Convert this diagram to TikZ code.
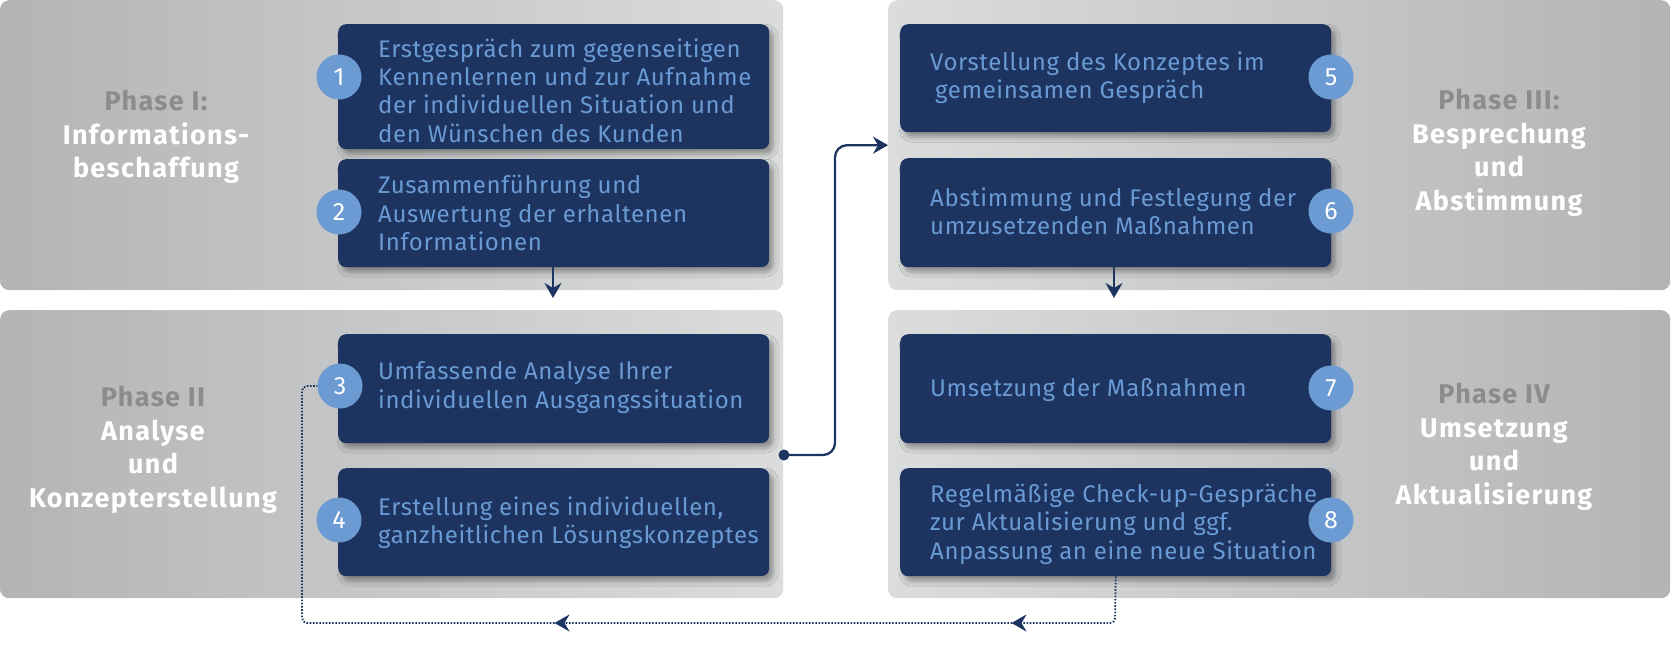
\documentclass[tikz,border=0pt]{standalone}
\usepackage{fontspec}
\setmainfont{Fira Sans}
\newfontfamily\bodyfont[LetterSpace=2.5]{Fira Sans}
\newfontfamily\phasefont[LetterSpace=5]{Fira Sans}
\usetikzlibrary{arrows.meta,shadows.blur,decorations.markings,calc}
\definecolor{navy}{HTML}{1D3461}
\definecolor{txtblue}{HTML}{6A9AD4}
\definecolor{circ}{HTML}{6B9BD2}
\definecolor{gDark}{HTML}{B3B4B6}
\definecolor{gLight}{HTML}{DBDCDC}
\definecolor{phgray}{HTML}{8C8C8C}
\begin{document}
\begin{tikzpicture}[x=1pt,y=-1pt,
  panel/.style={rounded corners=9pt, draw=none, anchor=north west, inner sep=0pt},
  box/.style={rounded corners=8pt, fill=navy, anchor=north west, inner sep=0pt, minimum width=431pt,
    blur shadow={shadow xshift=4pt, shadow yshift=-5pt, shadow blur radius=5pt, shadow opacity=35}},
  btxt/.style={anchor=west, align=left, text=txtblue, inner sep=0pt, font=\bodyfont\fontsize{24}{28.3}\selectfont},
  num/.style={circle, fill=circ, text=white, minimum size=45pt, inner sep=0pt, font=\fontsize{25}{25}\selectfont},
  phase/.style={align=center, text=white, inner sep=0pt, font=\phasefont\bfseries\fontsize{27}{33.5}\selectfont},
  conn/.style={draw=navy, line width=2.3pt},
  dotline/.style={draw=navy, line width=1.8pt, dash pattern=on 1.6pt off 1.6pt, rounded corners=5pt},
  tip/.style={-{Stealth[length=15pt,width=17pt,inset=5pt]}},
  dotnode/.style={circle, fill=navy, minimum size=11pt, inner sep=0pt}
]
\useasboundingbox (0,0) rectangle (1672,648);
% panels
\node[panel, left color=gDark, right color=gLight, minimum width=783pt, minimum height=290pt] (p1) at (0,0) {};
\node[panel, left color=gDark, right color=gLight, minimum width=783pt, minimum height=288pt] (p2) at (0,310) {};
\node[panel, left color=gLight, right color=gDark, minimum width=782pt, minimum height=290pt] (p3) at (888,0) {};
\node[panel, left color=gLight, right color=gDark, minimum width=782pt, minimum height=288pt] (p4) at (888,310) {};
% phase labels
\node[phase] (l1) at (156,137) {\textcolor{phgray}{Phase I:}\\Informations-\\beschaffung};
\node[phase] (l2) at (153,450) {\textcolor{phgray}{Phase II}\\Analyse\\und\\Konzepterstellung};
\node[phase] (l3) at (1499,153) {\textcolor{phgray}{Phase III:}\\Besprechung\\und\\Abstimmung};
\node[phase] (l4) at (1494,447) {\textcolor{phgray}{Phase IV}\\Umsetzung\\und\\Aktualisierung};
% boxes
\node[box, minimum height=125pt] (b1) at (338,24) {};
\node[box, minimum height=108pt] (b2) at (338,159) {};
\node[box, minimum height=109pt] (b3) at (338,334) {};
\node[box, minimum height=108pt] (b4) at (338,468) {};
\node[box, minimum height=108pt] (b5) at (900,24) {};
\node[box, minimum height=109pt] (b6) at (900,158) {};
\node[box, minimum height=109pt] (b7) at (900,334) {};
\node[box, minimum height=108pt] (b8) at (900,468) {};
% texts
\node[btxt] (t1) at (378,90.5) {Erstgespräch zum gegenseitigen\\Kennenlernen und zur Aufnahme\\der individuellen Situation und\\den Wünschen des Kunden};
\node[btxt] (t2) at (378,213) {Zusammenführung und\\Auswertung der erhaltenen\\Informationen};
\node[btxt] (t3) at (378,387.5) {Umfassende Analyse Ihrer\\individuellen Ausgangssituation};
\node[btxt] (t4) at (378,522.5) {Erstellung eines individuellen,\\ganzheitlichen Lösungskonzeptes};
\node[btxt] (t5) at (930,77.5) {Vorstellung des Konzeptes im\\\hspace*{5pt}gemeinsamen Gespräch};
\node[btxt] (t6) at (930,211.5) {Abstimmung und Festlegung der\\umzusetzenden Maßnahmen};
\node[btxt] (t7) at (930,390) {Umsetzung der Maßnahmen};
\node[btxt] (t8) at (930,524) {Regelmäßige Check-up-Gespräche\\zur Aktualisierung und ggf.\\Anpassung an eine neue Situation};
% numbers
\node[num] (c1) at (339,77) {1};
\node[num] (c2) at (339,212) {2};
\node[num] (c3) at (340,386) {3};
\node[num] (c4) at (339,520) {4};
\node[num] (c5) at (1331,77) {5};
\node[num] (c6) at (1331,211) {6};
\node[num] (c7) at (1331,388) {7};
\node[num] (c8) at (1331,520) {8};
% vertical arrows
\coordinate (a2) at (553,298);
\coordinate (a6) at (1114,298);
\draw[conn, tip] (b2.south -| a2) -- (a2);
\draw[conn, tip] (b6.south -| a6) -- (a6);
% solid connector from phase II to phase III
\node[dotnode] (s1) at (784,455) {};
\coordinate (k1) at (835,455);
\draw[conn, tip, rounded corners=12pt] (s1.center) -- (k1) |- (p3.west);
% dotted feedback loop
\coordinate (d1) at (1115,623);
\coordinate (d2) at (302,623);
\draw[dotline, postaction={decorate}, decoration={markings,
   mark=at position 148pt with {\arrow[solid]{Stealth[length=15pt,width=17pt,inset=5pt]}},
   mark=at position 605pt with {\arrow[solid]{Stealth[length=15pt,width=17pt,inset=5pt]}}}]
  (b8.south) -- (d1) -- (d2) |- (c3.west);
\end{tikzpicture}
\end{document}
